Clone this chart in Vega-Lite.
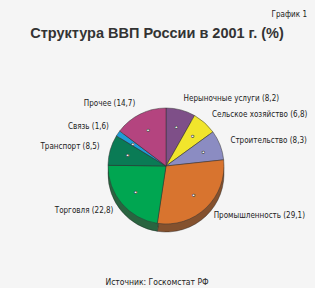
{
  "$schema": "https://vega.github.io/schema/vega-lite/v6.json",
  "background": "#f5f5f5",
  "padding": {"top": 10, "left": 17, "right": 0, "bottom": 3},
  "title": {"text": "График 1", "anchor": "end", "fontSize": 8, "fontWeight": "normal", "font": "DejaVu Sans Condensed, Roboto, sans-serif", "color": "#222", "offset": 7, "dx": -8},
  "vconcat": [
    {
      "title": {"text": "Структура ВВП России в 2001 г. (%)", "anchor": "middle", "fontSize": 14.5, "font": "Liberation Sans, Arial, sans-serif", "fontWeight": "bold", "color": "#333", "offset": 20, "dx": -9},
      "vconcat": [
        {
          "title": {"text": "Источник: Госкомстат РФ", "orient": "bottom", "anchor": "middle", "fontSize": 8.5, "font": "DejaVu Sans Condensed, Roboto, sans-serif", "fontWeight": "normal", "color": "#222", "offset": 7, "dx": -9},
          "width": 298,
          "height": 210,
          "data": {
            "values": [
              {"order": 1, "sector": "Нерыночные услуги", "value": 8.2, "label": "Нерыночные услуги (8,2)"},
              {"order": 2, "sector": "Сельское хозяйство", "value": 6.8, "label": "Сельское хозяйство (6,8)"},
              {"order": 3, "sector": "Строительство", "value": 8.3, "label": "Строительство (8,3)"},
              {"order": 4, "sector": "Промышленность", "value": 29.1, "label": "Промышленность (29,1)"},
              {"order": 5, "sector": "Торговля", "value": 22.8, "label": "Торговля (22,8)"},
              {"order": 6, "sector": "Транспорт", "value": 8.5, "label": "Транспорт (8,5)"},
              {"order": 7, "sector": "Связь", "value": 1.6, "label": "Связь (1,6)"},
              {"order": 8, "sector": "Прочее", "value": 14.7, "label": "Прочее (14,7)"}
            ]
          },
          "resolve": {"scale": {"color": "independent"}},
          "layer": [
            {
              "mark": {"type": "arc", "outerRadius": 58, "yOffset": 8, "stroke": "#222", "strokeWidth": 0.4},
              "encoding": {
                "theta": {"field": "value", "type": "quantitative", "stack": true},
                "order": {"field": "order", "type": "quantitative"},
                "color": {"field": "sector", "type": "nominal", "legend": null,
                  "scale": {"domain": ["Нерыночные услуги", "Сельское хозяйство", "Строительство", "Промышленность", "Торговля", "Транспорт", "Связь", "Прочее"],
                    "range": ["#3f2846", "#76701a", "#4a4a6e", "#84512e", "#2a6440", "#1d3a2c", "#12506e", "#5a2242"]}}
              }
            },
            {
              "mark": {"type": "arc", "outerRadius": 58, "stroke": "#333", "strokeWidth": 0.5},
              "encoding": {
                "theta": {"field": "value", "type": "quantitative", "stack": true},
                "order": {"field": "order", "type": "quantitative"},
                "color": {"field": "sector", "type": "nominal", "legend": null,
                  "scale": {"domain": ["Нерыночные услуги", "Сельское хозяйство", "Строительство", "Промышленность", "Торговля", "Транспорт", "Связь", "Прочее"],
                    "range": ["#7e4f88", "#f1e52c", "#8b8cc2", "#d8742f", "#00a651", "#0a7b55", "#1e9cd7", "#b4447f"]}}
              }
            },
            {
              "mark": {"type": "text", "radius": 40, "fontSize": 6, "fill": "#ffffff", "stroke": "#333", "strokeWidth": 0.6},
              "encoding": {
                "theta": {"field": "value", "type": "quantitative", "stack": true},
                "order": {"field": "order", "type": "quantitative"},
                "text": {"value": "●"}
              }
            },
            {
              "mark": {"type": "text", "radius": 69, "align": "left", "baseline": "middle", "fontSize": 8, "font": "DejaVu Sans Condensed, Roboto, sans-serif", "fill": "#222"},
              "encoding": {
                "theta": {"field": "value", "type": "quantitative", "stack": true},
                "order": {"field": "order", "type": "quantitative"},
                "text": {"condition": {"test": "datum.order <= 4", "field": "label"}, "value": ""}
              }
            },
            {
              "mark": {"type": "text", "radius": 69, "align": "right", "baseline": "middle", "fontSize": 8, "font": "DejaVu Sans Condensed, Roboto, sans-serif", "fill": "#222"},
              "encoding": {
                "theta": {"field": "value", "type": "quantitative", "stack": true},
                "order": {"field": "order", "type": "quantitative"},
                "text": {"condition": {"test": "datum.order > 4", "field": "label"}, "value": ""}
              }
            }
          ]
        }
      ]
    }
  ],
  "config": {"view": {"stroke": null}, "concat": {"spacing": 0}}
}
